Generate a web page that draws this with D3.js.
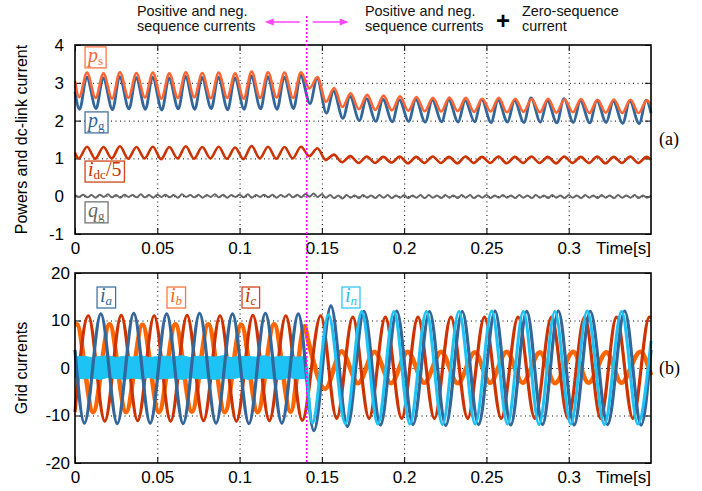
<!DOCTYPE html>
<html>
<head>
<meta charset="utf-8">
<script src="https://d3js.org/d3.v7.min.js"></script>
<style>
  body { margin: 0; background: #fff; }
</style>
</head>
<body>
<div id="chart"></div>
<script>
var w = 702;
var h = 491;

// ---- data ----
var eventTime = 0.1408;
var xTicks = [0, 0.05, 0.1, 0.15, 0.2, 0.25, 0.3];
var xTickLabels = ["0", "0.05", "0.1", "0.15", "0.2", "0.25", "0.3"];
var topYTicks = [-1, 0, 1, 2, 3, 4];
var botYTicks = [-20, -10, 0, 10, 20];

// (a) powers and dc-link current: [time, value] at peaks / troughs
var ps = [[0,3.05],[0.0025,2.62],[0.0073,3.27],[0.0125,2.6],[0.0173,3.25],[0.0225,2.58],[0.0273,3.28],
  [0.0325,2.6],[0.0373,3.26],[0.0425,2.61],[0.0473,3.27],[0.0525,2.58],[0.0573,3.25],[0.0625,2.6],[0.0673,3.28],
  [0.0725,2.62],[0.0773,3.26],[0.0825,2.59],[0.0873,3.27],[0.0925,2.6],[0.0973,3.25],[0.1025,2.58],[0.1073,3.3],
  [0.1125,2.6],[0.1173,3.28],[0.1225,2.61],[0.1273,3.27],[0.1325,2.6],[0.1373,3.28],[0.1425,2.85],[0.1473,3.15],
  [0.1525,2.5],[0.1575,2.86],[0.1625,2.36],[0.1675,2.72],[0.1725,2.3],[0.1775,2.68],[0.1825,2.28],[0.1875,2.66],
  [0.1925,2.27],[0.1975,2.64],[0.2025,2.26],[0.2075,2.62],[0.2125,2.25],[0.2175,2.6],[0.2225,2.24],[0.2275,2.61],
  [0.2325,2.25],[0.2375,2.6],[0.2425,2.23],[0.2475,2.58],[0.2525,2.24],[0.2575,2.6],[0.2625,2.22],[0.2675,2.58],
  [0.2725,2.23],[0.2775,2.57],[0.2825,2.22],[0.2875,2.58],[0.2925,2.21],[0.2975,2.56],[0.3025,2.22],[0.3075,2.57],
  [0.3125,2.2],[0.3175,2.55],[0.3225,2.21],[0.3275,2.56],[0.3325,2.2],[0.3375,2.55],[0.3425,2.2],[0.3475,2.54],[0.35,2.42]];

var pg = [[0,2.76],[0.0028,2.3],[0.0071,3.15],[0.0128,2.32],[0.0171,3.13],[0.0228,2.29],[0.0271,3.16],
  [0.0328,2.31],[0.0371,3.14],[0.0428,2.3],[0.0471,3.15],[0.0528,2.28],[0.0571,3.13],[0.0628,2.31],[0.0671,3.17],
  [0.0728,2.3],[0.0771,3.14],[0.0828,2.32],[0.0871,3.15],[0.0928,2.29],[0.0971,3.13],[0.1028,2.3],[0.1071,3.18],
  [0.1128,2.31],[0.1171,3.16],[0.1228,2.3],[0.1271,3.15],[0.1328,2.32],[0.1371,3.2],[0.1428,2.45],[0.1471,3.12],
  [0.1528,2.2],[0.1571,2.78],[0.1628,2.06],[0.1671,2.64],[0.1728,2.0],[0.1771,2.58],[0.1828,1.98],[0.1871,2.56],
  [0.1928,1.97],[0.1971,2.55],[0.2028,1.98],[0.2071,2.56],[0.2128,1.96],[0.2171,2.54],[0.2228,1.97],[0.2271,2.55],
  [0.2328,1.96],[0.2371,2.53],[0.2428,1.97],[0.2471,2.56],[0.2528,1.95],[0.2571,2.54],[0.2628,1.96],[0.2671,2.53],
  [0.2728,1.95],[0.2771,2.6],[0.2828,1.96],[0.2871,2.52],[0.2928,1.94],[0.2971,2.58],[0.3028,1.95],[0.3071,2.52],
  [0.3128,1.94],[0.3171,2.53],[0.3228,1.95],[0.3271,2.51],[0.3328,1.93],[0.3371,2.52],[0.3428,1.92],[0.3471,2.54],[0.35,2.2]];

var idc5 = [[0,1.15],[0.0023,1.0],[0.0073,1.31],[0.0123,0.99],[0.0173,1.3],[0.0223,1.0],[0.0273,1.32],
  [0.0323,0.99],[0.0373,1.3],[0.0423,1.0],[0.0473,1.31],[0.0523,0.98],[0.0573,1.3],[0.0623,1.0],[0.0673,1.32],
  [0.0723,0.99],[0.0773,1.3],[0.0823,1.0],[0.0873,1.31],[0.0923,0.99],[0.0973,1.29],[0.1023,0.98],[0.1073,1.33],
  [0.1123,1.0],[0.1173,1.31],[0.1223,0.99],[0.1273,1.3],[0.1323,1.0],[0.1373,1.31],[0.1423,1.06],[0.1473,1.27],
  [0.1523,0.96],[0.1573,1.1],[0.1623,0.9],[0.1673,1.06],[0.1723,0.88],[0.1773,1.05],[0.1823,0.88],[0.1873,1.04],
  [0.1923,0.89],[0.1973,1.05],[0.2023,0.87],[0.2073,1.04],[0.2123,0.88],[0.2173,1.05],[0.2223,0.88],[0.2273,1.04],
  [0.2323,0.87],[0.2373,1.05],[0.2423,0.88],[0.2473,1.04],[0.2523,0.88],[0.2573,1.05],[0.2623,0.87],[0.2673,1.04],
  [0.2723,0.88],[0.2773,1.05],[0.2823,0.88],[0.2873,1.04],[0.2923,0.87],[0.2973,1.05],[0.3023,0.88],[0.3073,1.04],
  [0.3123,0.88],[0.3173,1.05],[0.3223,0.87],[0.3273,1.04],[0.3323,0.88],[0.3373,1.05],[0.3423,0.88],[0.3473,1.04],[0.35,0.96]];

// q_g sampled every 2.5 ms
var qgStep = 0.0025;
var qg = [0.03,-0.02,0.04,-0.03,0.03,-0.04,0.04,-0.02,0.05,-0.03,
  0.03,-0.04,0.04,-0.02,0.03,-0.03,0.05,-0.03,0.03,-0.04,
  0.04,-0.02,0.04,-0.03,0.03,-0.04,0.05,-0.02,0.03,-0.03,
  0.04,-0.04,0.03,-0.02,0.05,-0.03,0.04,-0.04,0.03,-0.02,
  0.04,-0.03,0.05,-0.04,0.03,-0.02,0.04,-0.03,0.04,-0.04,
  0.03,-0.02,0.05,-0.03,0.04,-0.03,0.06,-0.01,0.07,-0.02,
  0.05,-0.04,0.03,-0.05,0.02,-0.06,0.03,-0.04,0.02,-0.05,
  0.03,-0.04,0.02,-0.05,0.03,-0.04,0.03,-0.05,0.02,-0.04,
  0.03,-0.05,0.02,-0.04,0.03,-0.05,0.03,-0.04,0.02,-0.05,
  0.03,-0.04,0.02,-0.05,0.03,-0.04,0.03,-0.05,0.02,-0.04,
  0.03,-0.05,0.02,-0.04,0.03,-0.04,0.02,-0.05,0.03,-0.04,
  0.02,-0.05,0.03,-0.04,0.02,-0.05,0.03,-0.04,0.02,-0.05,
  0.03,-0.04,0.02,-0.05,0.03,-0.04,0.02,-0.05,0.03,-0.04,
  0.02,-0.05,0.03,-0.04,0.02,-0.04,0.03,-0.05,0.02,-0.04,
  0.01];

// (b) grid currents: [time, value] at peaks / troughs
var ia = [[0,3.8],[0.0057,-11.6],[0.0157,11.4],[0.0257,-11.7],[0.0357,11.5],[0.0457,-11.6],[0.0557,11.4],
  [0.0657,-11.7],[0.0757,11.5],[0.0857,-11.6],[0.0957,11.4],[0.1057,-11.7],[0.1157,11.5],[0.1257,-11.6],[0.1357,11.4],
  [0.1452,-13.2],[0.1555,13.1],[0.1655,-12.3],[0.1756,11.9],[0.1856,-12.0],[0.1955,12.0],[0.2054,-11.9],[0.2154,11.9],
  [0.2253,-12.1],[0.2353,11.9],[0.2452,-11.9],[0.2552,12.0],[0.2648,-12.0],[0.2745,11.9],[0.2841,-11.9],[0.2937,12.0],
  [0.3033,-12.0],[0.3131,11.9],[0.3236,-11.9],[0.3340,12.0],[0.3440,-12.0],[0.35,3.8]];

var ib = [[0,9.1],[0.001,9.2],[0.011,-9.3],[0.021,9.2],[0.031,-9.3],[0.041,9.1],[0.051,-9.3],[0.061,9.2],
  [0.071,-9.2],[0.081,9.2],[0.091,-9.3],[0.101,9.1],[0.111,-9.3],[0.121,9.2],[0.131,-9.2],[0.1395,8.8],[0.1415,6.0],
  [0.152,-4.4],[0.162,3.5],[0.172,-3.2],[0.182,3.4],[0.192,-3.2],[0.2022,3.4],[0.2122,-3.1],[0.2225,3.4],[0.2325,-3.2],
  [0.243,3.3],[0.2522,-3.1],[0.2623,3.4],[0.272,-3.1],[0.2825,3.3],[0.2917,-3.2],[0.3027,3.4],[0.312,-3.1],[0.323,3.3],
  [0.332,-3.1],[0.3435,3.4],[0.35,-1.5]];

var ic = [[0,-9.3],[0.0081,11.0],[0.0181,-11.2],[0.0281,11.1],[0.0381,-11.1],[0.0481,11.0],[0.0581,-11.2],
  [0.0681,11.1],[0.0781,-11.1],[0.0881,11.0],[0.0981,-11.2],[0.1081,11.1],[0.1181,-11.1],[0.1281,11.0],[0.1381,-11.0],
  [0.1493,11.0],[0.1590,-10.6],[0.1688,10.7],[0.1787,-10.6],[0.1886,10.7],[0.1985,-10.6],[0.2084,10.7],[0.2184,-10.6],
  [0.2284,10.7],[0.2386,-10.6],[0.2488,10.7],[0.2590,-10.6],[0.2692,10.7],[0.2794,-10.6],[0.2895,10.7],[0.2996,-10.6],
  [0.3097,10.7],[0.3194,-10.6],[0.3290,10.7],[0.3390,-10.6],[0.3490,10.7],[0.35,10.6]];

// i_n before the fault: a noisy band [time, low, high]
var inBand = [[0,-2.0,2.3],[0.005,-2.3,2.5],[0.01,-2.1,2.2],[0.015,-2.4,2.4],[0.02,-2.0,2.6],[0.025,-2.2,2.2],
  [0.03,-2.4,2.5],[0.035,-2.1,2.3],[0.04,-2.3,2.6],[0.045,-2.0,2.2],[0.05,-2.4,2.4],[0.055,-2.2,2.5],[0.06,-2.1,2.3],
  [0.065,-2.4,2.6],[0.07,-2.0,2.2],[0.075,-2.3,2.5],[0.08,-2.2,2.4],[0.085,-2.4,2.3],[0.09,-2.1,2.6],[0.095,-2.3,2.2],
  [0.1,-2.0,2.5],[0.105,-2.4,2.4],[0.11,-2.2,2.3],[0.115,-2.1,2.6],[0.12,-2.3,2.2],[0.125,-2.4,2.5],[0.13,-2.0,2.4],
  [0.135,-2.3,2.3],[0.1408,-2.2,2.4]];
var inLine = [[0.1408,0.3],[0.1442,-11.6],[0.1540,11.2],[0.1643,-11.7],[0.1742,11.9],[0.1840,-11.8],[0.1938,11.9],
  [0.2035,-11.8],[0.2135,11.9],[0.2233,-11.9],[0.2333,11.9],[0.2432,-11.8],[0.2532,12.0],[0.2628,-11.8],[0.2724,11.9],
  [0.2820,-11.9],[0.2916,11.9],[0.3013,-11.8],[0.3112,12.0],[0.3217,-11.9],[0.3321,11.9],[0.3420,-11.8],[0.35,5.7]];

var topLegend = [
  {main: "p", sub: "s", tail: "", subItalic: false, color: "#ff6633"},
  {main: "p", sub: "g", tail: "", subItalic: false, color: "#336699"},
  {main: "i", sub: "dc", tail: "/5", subItalic: false, color: "#cc3300"},
  {main: "q", sub: "g", tail: "", subItalic: false, color: "#666666"}
];
var botLegend = [
  {main: "i", sub: "a", tail: "", subItalic: true, color: "#336699"},
  {main: "i", sub: "b", tail: "", subItalic: true, color: "#ff6a2a"},
  {main: "i", sub: "c", tail: "", subItalic: true, color: "#cc3300"},
  {main: "i", sub: "n", tail: "", subItalic: true, color: "#1ec3f5"}
];
// where each legend box sits (time, value of the top-left corner)
var topLegendAt = [[0.0061, 3.95], [0.0061, 2.23], [0.0061, 0.93], [0.0061, -0.15]];
var botLegendAt = [[0.0134, 17.05], [0.0559, 17.05], [0.1015, 17.05], [0.1622, 17.05]];

// ---- drawing ----
var sans = "Liberation Sans, Arial, sans-serif";
var serif = "Liberation Serif, Times New Roman, serif";

var svg = d3.select("#chart")
  .append("svg")
  .attr("width", w)
  .attr("height", h)
  .attr("font-family", sans);

var x = d3.scaleLinear().domain([0, 0.35]).range([75, 651]);
var yTop = d3.scaleLinear().domain([-1, 4]).range([234, 45]);
var yBot = d3.scaleLinear().domain([-20, 20]).range([463, 273]);

function drawAxes(y, yTicks, yPad) {
  var y0 = y.range()[0], y1 = y.range()[1];
  var gh = y0 - y1, gw = x.range()[1] - x.range()[0];

  // dotted grid
  var gx = svg.append("g").attr("transform", "translate(0," + y0 + ")")
    .call(d3.axisBottom(x).tickValues(xTicks.slice(1)).tickSize(-gh).tickFormat(""));
  var gy = svg.append("g").attr("transform", "translate(" + x.range()[0] + ",0)")
    .call(d3.axisLeft(y).tickValues(yTicks.slice(1, -1)).tickSize(-gw).tickFormat(""));
  [gx, gy].forEach(function(g) {
    g.select(".domain").remove();
    g.selectAll("line").attr("stroke", "#000").attr("stroke-width", 1).attr("stroke-dasharray", "1,3.5");
  });

  // inner ticks on all four sides
  var bottom = svg.append("g").attr("transform", "translate(0," + y0 + ")")
    .call(d3.axisBottom(x).tickValues(xTicks).tickSize(-6).tickSizeOuter(0).tickPadding(8)
      .tickFormat(function(d, i) { return xTickLabels[i]; }));
  var top = svg.append("g").attr("transform", "translate(0," + y1 + ")")
    .call(d3.axisTop(x).tickValues(xTicks).tickSize(-6).tickSizeOuter(0).tickFormat(""));
  var left = svg.append("g").attr("transform", "translate(" + x.range()[0] + ",0)")
    .call(d3.axisLeft(y).tickValues(yTicks).tickSize(-6).tickSizeOuter(0).tickPadding(yPad)
      .tickFormat(function(d) { return String(d); }));
  var right = svg.append("g").attr("transform", "translate(" + x.range()[1] + ",0)")
    .call(d3.axisRight(y).tickValues(yTicks).tickSize(-6).tickSizeOuter(0).tickFormat(""));
  [bottom, top, left, right].forEach(function(g) {
    g.select(".domain").remove();
    g.selectAll("line").attr("stroke", "#000").attr("stroke-width", 1);
    g.selectAll("text").attr("font-size", 17).attr("fill", "#000");
  });
  bottom.attr("font-family", sans);
  left.attr("font-family", sans);

  svg.append("text")
    .attr("x", x.range()[1]).attr("y", y0 + 8).attr("dy", "0.71em")
    .attr("text-anchor", "end").attr("font-size", 17)
    .text("Time[s]");
}

function drawFrame(y) {
  svg.append("rect")
    .attr("x", x.range()[0]).attr("y", y.range()[1])
    .attr("width", x.range()[1] - x.range()[0]).attr("height", y.range()[0] - y.range()[1])
    .attr("fill", "none").attr("stroke", "#000").attr("stroke-width", 1.6);
}

function drawLine(data, y, color, width) {
  var line = d3.line()
    .x(function(d) { return x(d[0]); })
    .y(function(d) { return y(d[1]); })
    .curve(d3.curveMonotoneX);
  svg.append("path").datum(data)
    .attr("d", line)
    .attr("fill", "none").attr("stroke", color)
    .attr("stroke-width", width).attr("stroke-linejoin", "round");
}

function drawLegend(items, spots, y) {
  items.forEach(function(it, i) {
    var g = svg.append("g")
      .attr("transform", "translate(" + x(spots[i][0]) + "," + y(spots[i][1]) + ")");
    var rect = g.append("rect");
    var t = g.append("text").attr("x", 3).attr("y", 15)
      .attr("fill", it.color).attr("font-family", serif);
    t.append("tspan").attr("font-style", "italic").attr("font-size", 20).text(it.main);
    t.append("tspan").attr("font-size", 13).attr("dy", 3)
      .attr("font-style", it.subItalic ? "italic" : "normal").text(it.sub);
    if (it.tail) t.append("tspan").attr("font-size", 20).attr("dy", -3).text(it.tail);
    var bb = t.node().getBBox();
    rect.attr("x", 0).attr("y", 0)
      .attr("width", bb.x + bb.width + 3).attr("height", 21)
      .attr("fill", "#fff").attr("stroke", it.color).attr("stroke-width", 1.3)
      .attr("opacity", 0.9);
  });
}

// (a)
drawAxes(yTop, topYTicks, 11);
drawLine(qg.map(function(v, i) { return [i * qgStep, v]; }), yTop, "#666666", 2);
drawLine(idc5, yTop, "#cc3300", 2.6);
drawLine(pg, yTop, "#336699", 2.8);
drawLine(ps, yTop, "#ff6633", 2.6);
drawFrame(yTop);
drawLegend(topLegend, topLegendAt, yTop);

// (b)
drawAxes(yBot, botYTicks, 5);
drawLine(ib, yBot, "#ff6600", 4.6);
drawLine(ic, yBot, "#cc3300", 3.2);
svg.append("path").datum(inBand)
  .attr("d", d3.area()
    .x(function(d) { return x(d[0]); })
    .y0(function(d) { return yBot(d[1]); })
    .y1(function(d) { return yBot(d[2]); }))
  .attr("fill", "#1ec3f5").attr("stroke", "#1ec3f5").attr("stroke-width", 1);
drawLine(ia, yBot, "#336699", 3.2);
drawLine(inLine, yBot, "#1ec3f5", 3);
drawFrame(yBot);
drawLegend(botLegend, botLegendAt, yBot);

// axis titles and panel tags
svg.append("text")
  .attr("transform", "translate(27," + (yTop.range()[0] + yTop.range()[1]) / 2 + ") rotate(-90)")
  .attr("text-anchor", "middle").attr("font-size", 16)
  .text("Powers and dc-link current");
svg.append("text")
  .attr("transform", "translate(27," + (yBot.range()[0] + yBot.range()[1]) / 2 + ") rotate(-90)")
  .attr("text-anchor", "middle").attr("font-size", 16)
  .text("Grid currents");
svg.append("text").attr("x", 659).attr("y", 145)
  .attr("font-family", serif).attr("font-size", 18).text("(a)");
svg.append("text").attr("x", 659).attr("y", 374)
  .attr("font-family", serif).attr("font-size", 18).text("(b)");

// fault instant marker and annotations
var ex = x(eventTime);
svg.append("line")
  .attr("x1", ex).attr("x2", ex).attr("y1", 16).attr("y2", yBot.range()[0])
  .attr("stroke", "#ff00ff").attr("stroke-width", 1.6).attr("stroke-dasharray", "2,2");

var arrowColor = "#ff44ff";
svg.append("line").attr("x1", ex - 7).attr("x2", ex - 36).attr("y1", 22).attr("y2", 22)
  .attr("stroke", arrowColor).attr("stroke-width", 1.5);
svg.append("path").attr("d", "M" + (ex - 42) + ",22 L" + (ex - 33) + ",18.5 L" + (ex - 33) + ",25.5 Z")
  .attr("fill", arrowColor);
svg.append("line").attr("x1", ex + 6).attr("x2", ex + 36).attr("y1", 22).attr("y2", 22)
  .attr("stroke", arrowColor).attr("stroke-width", 1.5);
svg.append("path").attr("d", "M" + (ex + 42) + ",22 L" + (ex + 33) + ",18.5 L" + (ex + 33) + ",25.5 Z")
  .attr("fill", arrowColor);

var notes = [
  {x: 137, lines: ["Positive and neg.", "sequence currents"]},
  {x: 365, lines: ["Positive and neg.", "sequence currents"]},
  {x: 522, lines: ["Zero-sequence", "current"]}
];
notes.forEach(function(n) {
  n.lines.forEach(function(s, i) {
    svg.append("text").attr("x", n.x).attr("y", 15.5 + i * 15.5)
      .attr("font-size", 14.4).attr("fill", "#111").text(s);
  });
});
svg.append("text").attr("x", 503).attr("y", 29)
  .attr("text-anchor", "middle").attr("font-size", 24).attr("font-weight", "bold")
  .text("+");
</script>
</body>
</html>
